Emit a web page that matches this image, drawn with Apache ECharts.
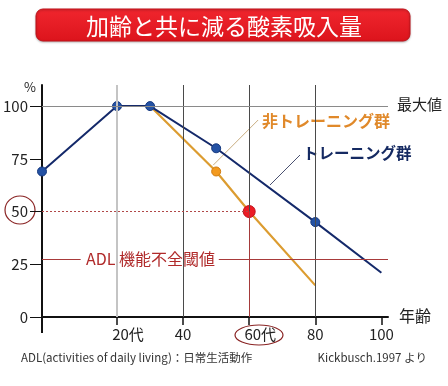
<!DOCTYPE html>
<html>
<head>
<meta charset="utf-8">
<script src="https://cdn.jsdelivr.net/npm/echarts@6/dist/echarts.min.js"></script>
<style>
html,body{margin:0;padding:0;background:#fff;}
#c{width:448px;height:386px;}
</style>
</head>
<body>
<div id="c"></div>
<script>
// ---- data ----
const trainedAges = [-2.7, 20, 30, 50, 80, 100];
const trainedVals = [69, 100, 100, 80, 45, 21];
const untrainedAges = [30, 50, 60, 80];
const untrainedVals = [100, 69, 50, 15];
const xTickValues = [20, 40, 60, 80, 100];
const xTickLabels = ['20代', '40', '60代', '80', '100'];
const yTickValues = [0, 25, 50, 75, 100];
const yTickLabels = ['0', '25', '50', '75', '100'];
const maxLevel = 100;
const halfLevel = 50;
const adlLevel = 27.5;
const keyAge = 60;

const FONT = '"Noto Sans CJK JP", "Noto Sans", sans-serif';
const X_MIN = -2.7, X_MAX = 102, Y_MIN = 0, Y_MAX = 110;

const chart = echarts.init(document.getElementById('c'), null, {renderer: 'canvas'});

const trainedData = trainedAges.map((a, i) => ({
  value: [a, trainedVals[i]],
  symbol: i === trainedAges.length - 1 ? 'none' : 'circle'
}));
const untrainedData = untrainedAges.map((a, i) => {
  const item = {value: [a, untrainedVals[i]], symbol: 'none'};
  if (a === keyAge) {
    item.symbol = 'circle'; item.symbolSize = 12;
    item.itemStyle = {color: '#ec1c24', borderColor: '#c0101a', borderWidth: 1};
  } else if (i > 0 && i < untrainedAges.length - 1) {
    item.symbol = 'circle'; item.symbolSize = 9;
  }
  return item;
});

const darkGrid = {color: '#4a4a4a', width: 1, type: 'solid'};
const seg = (x1, y1, x2, y2, ls) => [{coord: [x1, y1], lineStyle: ls}, {coord: [x2, y2]}];

const markLines = [
  seg(xTickValues[0], 0, xTickValues[0], Y_MAX, {color: '#c4c4c4', width: 2, type: 'solid'}),
  seg(xTickValues[1], 0, xTickValues[1], Y_MAX, darkGrid),
  seg(keyAge, halfLevel, keyAge, Y_MAX, darkGrid),
  seg(keyAge, 0, keyAge, halfLevel, {color: '#a53a3a', width: 1, type: 'solid'}),
  seg(xTickValues[3], 0, xTickValues[3], Y_MAX, darkGrid),
  seg(X_MIN, maxLevel, X_MAX, maxLevel, {color: '#8a8a8a', width: 1, type: 'solid'}),
  seg(X_MIN, halfLevel, keyAge, halfLevel, {color: '#b04848', width: 1, type: [2, 2]}),
  seg(X_MIN, adlLevel, 9, adlLevel, {color: '#a83a3a', width: 1, type: 'solid'}),
  seg(50.8, adlLevel, X_MAX, adlLevel, {color: '#a83a3a', width: 1, type: 'solid'})
];

const option = {
  animation: false,
  backgroundColor: '#fff',
  grid: {left: 42, top: 85, width: 346, height: 232, containLabel: false},
  xAxis: {
    type: 'value', min: X_MIN, max: X_MAX,
    axisLine: {show: true, onZero: false, lineStyle: {color: '#111', width: 2}},
    axisTick: {show: true, customValues: xTickValues, length: 8, lineStyle: {color: '#111', width: 1.5}},
    axisLabel: {
      customValues: xTickValues, margin: 10, color: '#222', fontSize: 15, fontFamily: FONT,
      formatter: (v) => {
        const i = xTickValues.indexOf(v);
        const lab = i >= 0 ? xTickLabels[i] : '';
        return lab.indexOf('代') >= 0 ? '{s|' + lab + '}' : lab;
      },
      rich: {s: {padding: [0, 0, 0, 22], fontSize: 15, color: '#222', fontFamily: FONT}}
    },
    splitLine: {show: false}
  },
  yAxis: {
    type: 'value', min: Y_MIN, max: Y_MAX,
    axisLine: {show: true, onZero: false, lineStyle: {color: '#111', width: 2}},
    axisTick: {show: true, customValues: yTickValues, length: 12, lineStyle: {color: '#111', width: 1}},
    axisLabel: {
      customValues: yTickValues, margin: 14, color: '#222', fontSize: 15, fontFamily: FONT,
      formatter: (v) => { const i = yTickValues.indexOf(v); return i >= 0 ? yTickLabels[i] : ''; }
    },
    splitLine: {show: false}
  },
  series: [
    {
      type: 'line', data: [], z: 1, silent: true,
      markLine: {silent: true, symbol: 'none', label: {show: false}, animation: false, data: markLines}
    },
    {
      type: 'line', data: untrainedData, z: 3,
      lineStyle: {color: '#dc9c30', width: 2.2},
      itemStyle: {color: '#f39a1e', borderColor: '#d07c10', borderWidth: 1},
      symbolSize: 9
    },
    {
      type: 'line', data: trainedData, z: 4,
      lineStyle: {color: '#14296a', width: 2},
      itemStyle: {color: '#2452a4', borderColor: '#173a80', borderWidth: 1},
      symbolSize: 9
    }
  ]
};
chart.setOption(option);

const P = (a, v) => chart.convertToPixel({gridIndex: 0}, [a, v]);
const p1 = P(62.7, 93.4), p2 = P(49.1, 72);
const o = P(X_MIN, 0);

chart.setOption({
  graphic: [
    {type: 'rect', shape: {x: 36, y: 9, width: 374, height: 32, r: 7},
     style: {fill: new echarts.graphic.LinearGradient(0, 0, 0, 1, [{offset: 0, color: '#f0262e'}, {offset: 1, color: '#dc141c'}]),
             stroke: '#c0121a', lineWidth: 1, shadowBlur: 2, shadowColor: 'rgba(0,0,0,0.25)', shadowOffsetY: 1}},
    {type: 'text', x: 224, y: 26, style: {text: '加齢と共に減る酸素吸入量', fill: '#fff', font: '23px ' + FONT, textAlign: 'center', textVerticalAlign: 'middle'}},
    {type: 'line', shape: {x1: o[0], y1: o[1], x2: o[0], y2: o[1] + 16}, style: {stroke: '#111', lineWidth: 2}},
    {type: 'text', x: 30, y: 87, style: {text: '%', fill: '#222', font: '13px ' + FONT, textAlign: 'center', textVerticalAlign: 'middle'}},
    {type: 'text', x: 397, y: 104, style: {text: '最大値', fill: '#222', font: '15px ' + FONT, textAlign: 'left', textVerticalAlign: 'middle'}},
    {type: 'text', x: 399, y: 316, style: {text: '年齢', fill: '#222', font: '16px ' + FONT, textAlign: 'left', textVerticalAlign: 'middle'}},
    {type: 'text', x: 86, y: 259, style: {text: 'ADL 機能不全閾値', fill: '#b02a2a', font: '16px ' + FONT, textAlign: 'left', textVerticalAlign: 'middle'}},
    {type: 'line', shape: {x1: p1[0], y1: p1[1], x2: p2[0], y2: p2[1]}, style: {stroke: '#c9ad80', lineWidth: 1}},
    {type: 'text', x: 262, y: 121, style: {text: '非トレーニング群', fill: '#e0892a', font: 'bold 16px ' + FONT, textAlign: 'left', textVerticalAlign: 'middle'}},
    {type: 'line', shape: {x1: 300, y1: 155, x2: 270, y2: 185}, style: {stroke: '#4a5070', lineWidth: 1}},
    {type: 'text', x: 303, y: 153, style: {text: 'トレーニング群', fill: '#152a62', font: 'bold 15.5px ' + FONT, textAlign: 'left', textVerticalAlign: 'middle'}},
    {type: 'ellipse', shape: {cx: 20, cy: 210, rx: 15, ry: 14}, style: {fill: 'none', stroke: '#8a2424', lineWidth: 1.2}},
    {type: 'ellipse', shape: {cx: 259, cy: 335, rx: 24, ry: 10}, style: {fill: 'none', stroke: '#8a2424', lineWidth: 1.2}},
    {type: 'text', x: 21, y: 358, style: {text: 'ADL(activities of daily living)：日常生活動作', fill: '#333', font: '11.5px ' + FONT, textAlign: 'left', textVerticalAlign: 'middle'}},
    {type: 'text', x: 427, y: 358, style: {text: 'Kickbusch.1997 より', fill: '#333', font: '11.5px ' + FONT, textAlign: 'right', textVerticalAlign: 'middle'}}
  ]
});
</script>
</body>
</html>
